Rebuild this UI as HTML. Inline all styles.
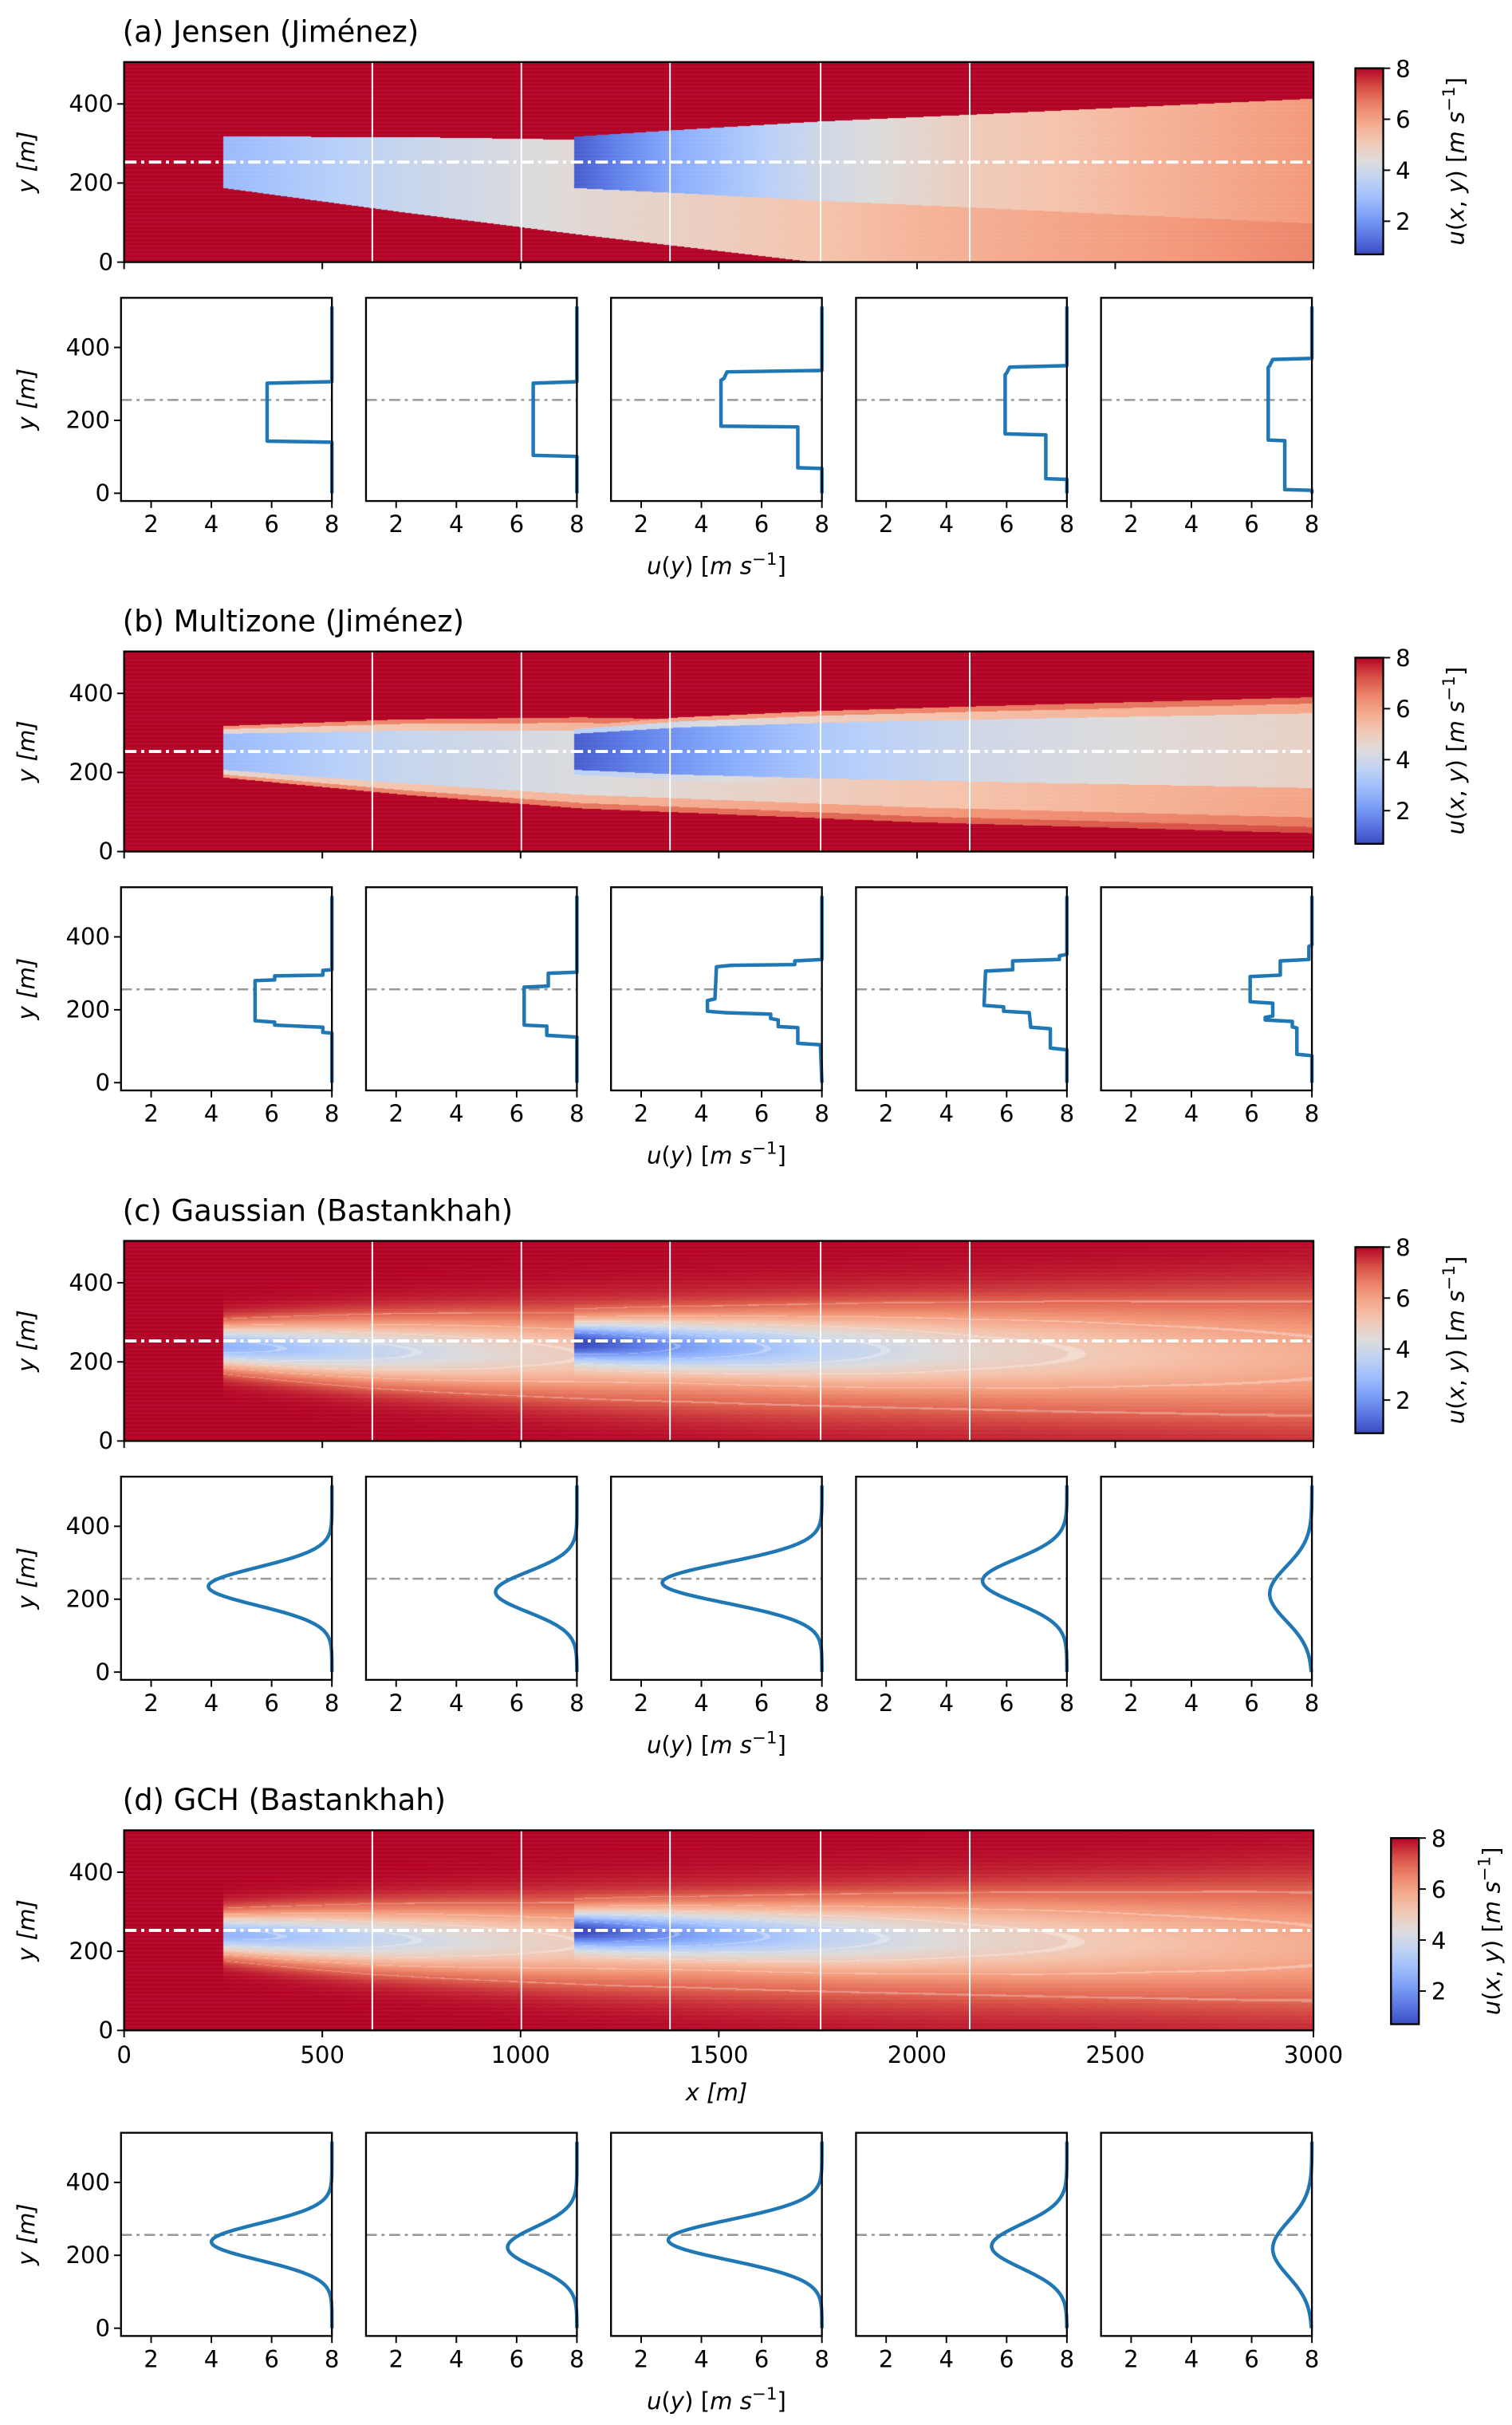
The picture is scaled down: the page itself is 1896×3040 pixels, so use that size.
<!DOCTYPE html>
<html><head><meta charset="utf-8"><title>Wake models</title>
<style>
html,body{margin:0;padding:0;background:#fff;}
#wrap{position:relative;width:1896px;height:3040px;overflow:hidden;background:#fff;}
canvas{position:absolute;}
svg{position:absolute;left:0;top:0;}
text{font-family:"DejaVu Sans","Liberation Sans",sans-serif;fill:#000;}
</style></head>
<body>
<div id="wrap">
<svg id="fig" width="1896" height="3040" viewBox="0 0 975 1563.4"></svg>
</div>
<script>
// ---------------- data ----------------
const titles = ["(a) Jensen (Jiménez)", "(b) Multizone (Jiménez)", "(c) Gaussian (Bastankhah)", "(d) GCH (Bastankhah)"];
const sliceX = [626, 1002, 1377, 1757, 2133];
const centerY = 253;
const xTicks = [0, 500, 1000, 1500, 2000, 2500, 3000];
const yTicks = [0, 200, 400];
const uTicks = [2, 4, 6, 8];
const cbTicks = [2, 4, 6, 8];
const vMin = 0.7, vMax = 8, uInf = 8;

// Jensen wakes (stations)
const jW1x = [250, 700, 1150, 2000, 3000];
const jW1u = [2.8, 3.8, 4.5, 5.6, 6.5];
const jW1c = [253, 222, 190, 130, 60];
const jW1h = [65, 95, 120, 160, 200];
const jW2x = [1135, 1400, 1750, 2150, 3000];
const jW2u = [1.0, 2.5, 4.0, 5.0, 6.2];
const jW2c = [253, 255, 256, 256, 256];
const jW2h = [65, 80, 100, 118, 158];
// Multizone wakes
const mW1x = [250, 700, 1150, 2000, 3000];
const mW1u = [2.8, 3.8, 4.3, 5.2, 6.0];
const mW1c = [253, 240, 225, 200, 180];
const mW1h = [65, 95, 115, 125, 133];
const mW2x = [1135, 1400, 1750, 2150, 3000];
const mW2u = [1.0, 2.0, 3.2, 4.0, 4.8];
const mW2c = [253, 255, 256, 256, 256];
const mW2h = [65, 85, 100, 112, 135];
// Gaussian wakes
const gW1x = [250, 400, 626, 1002, 1400, 2000, 3000];
const gW1d = [5.4, 5.0, 4.3, 3.3, 2.5, 1.8, 1.2];
const gW1c = [240, 235, 228, 220, 212, 200, 185];
const gW1s = [38, 45, 55, 68, 82, 100, 120];
const gW2x = [1135, 1300, 1500, 1757, 2133, 2600, 3000];
const gW2d = [7.0, 6.0, 5.0, 4.0, 3.0, 2.3, 1.9];
const gW2c = [250, 245, 240, 235, 230, 225, 220];
const gW2s = [38, 45, 52, 62, 76, 92, 108];

// Profiles: Jensen (u, y)
const jP1 = [[8,512],[8,306],[5.85,302],[5.85,143],[8,140],[8,0]];
const jP2 = [[8,512],[8,306],[6.55,302],[6.55,104],[8,101],[8,0]];
const jP3 = [[8,512],[8,337],[4.85,333],[4.75,315],[4.65,310],[4.65,184],[7.2,182],[7.2,70],[8,68],[8,0]];
const jP4 = [[8,512],[8,350],[6.1,346],[6.0,330],[5.95,325],[5.95,163],[7.3,160],[7.3,40],[8,38],[8,0]];
const jP5 = [[8,512],[8,370],[6.7,367],[6.6,350],[6.55,345],[6.55,146],[7.1,144],[7.1,10],[8,8],[8,0]];
// Profiles: Multizone
const mP1 = [[8,512],[8,310],[7.7,308],[7.7,295],[6.1,293],[6.1,282],[5.45,280],[5.45,170],[6.1,166],[6.1,158],[7.7,152],[7.7,138],[8,136],[8,0]];
const mP2 = [[8,512],[8,303],[7.05,300],[7.05,265],[6.25,262],[6.25,158],[7.0,155],[7.0,130],[8,125],[8,0]];
const mP3 = [[8,512],[8,338],[7.1,334],[7.1,324],[5.0,322],[4.5,318],[4.45,230],[4.2,225],[4.2,196],[4.8,192],[6.3,188],[6.3,176],[6.55,172],[6.55,154],[7.2,151],[7.2,108],[7.95,104],[8,0]];
const mP4 = [[8,512],[8,352],[7.75,348],[7.75,338],[6.2,334],[6.2,310],[5.3,306],[5.25,212],[5.9,208],[5.9,196],[6.75,192],[6.8,152],[7.45,148],[7.45,95],[8,90],[8,0]];
const mP5 = [[8,512],[8,378],[7.9,374],[7.9,338],[6.95,334],[6.95,295],[5.95,291],[5.95,222],[6.7,218],[6.7,183],[6.45,179],[6.45,172],[7.35,168],[7.35,153],[7.5,150],[7.5,78],[8,74],[8,0]];
// Profiles: Gaussian / GCH (min speed, centre, width)
const gMin = [3.9, 5.3, 2.7, 5.2, 6.6];
const gCen = [235, 220, 245, 250, 215];
const gSig = [52, 55, 55, 60, 75];
const hMin = [4.0, 5.7, 2.9, 5.5, 6.7];
const hCen = [237, 222, 242, 225, 218];
const hSig = [50, 55, 55, 60, 75];

// ---------------- layout ----------------
const S = 1896 / 975;
const rowOff = [0, 380, 760, 1140];
const profTop = [192, 572, 952, 1375];
const panelL = [78, 236, 394, 552, 710];
const panelW = 136, panelH = 131;
const HX0 = 80, HX1 = 847, HH = 129, HT = 40, YMAX = 506;
const svg = document.getElementById('fig');
const NS = 'http://www.w3.org/2000/svg';
function mk(tag, attrs, parent) {
  const e = document.createElementNS(NS, tag);
  for (const k in attrs) e.setAttribute(k, attrs[k]);
  (parent || svg).appendChild(e);
  return e;
}
function txt(str, attrs, parent) { const t = mk('text', attrs, parent); t.textContent = str; return t; }

function lerp(xs, vs, x) {
  if (x <= xs[0]) return vs[0];
  for (let i = 1; i < xs.length; i++) if (x <= xs[i]) { const f = (x - xs[i-1]) / (xs[i] - xs[i-1]); return vs[i-1] + f * (vs[i] - vs[i-1]); }
  return vs[vs.length-1];
}
const cmStops = [[0,[58,76,193]],[0.125,[98,130,234]],[0.25,[141,176,254]],[0.375,[184,208,249]],[0.5,[221,220,220]],[0.625,[245,196,173]],[0.75,[244,154,123]],[0.875,[222,96,77]],[1,[180,4,38]]];
function cmap(v) {
  let t = (v - vMin) / (vMax - vMin); t = Math.max(0, Math.min(1, t));
  for (let i = 1; i < cmStops.length; i++) if (t <= cmStops[i][0]) {
    const a = cmStops[i-1], b = cmStops[i], f = (t - a[0]) / (b[0] - a[0]);
    return [0,1,2].map(k => Math.round(a[1][k] + f * (b[1][k] - a[1][k])));
  }
  return cmStops[cmStops.length-1][1];
}

// field models
function fJensen(x, y) {
  let u = uInf;
  const W = [[jW1x,jW1u,jW1c,jW1h],[jW2x,jW2u,jW2c,jW2h]];
  for (const w of W) { if (x < w[0][0]) continue;
    const c = lerp(w[0], w[2], x), h = lerp(w[0], w[3], x);
    if (Math.abs(y - c) <= h) u = Math.min(u, lerp(w[0], w[1], x)); }
  return u;
}
function fMulti(x, y) {
  let u = uInf;
  const W = [[mW1x,mW1u,mW1c,mW1h],[mW2x,mW2u,mW2c,mW2h]];
  for (const w of W) { if (x < w[0][0]) continue;
    const c = lerp(w[0], w[2], x), h = lerp(w[0], w[3], x), uc = lerp(w[0], w[1], x);
    const r = Math.abs(y - c) / h; let v = uInf;
    if (r <= 0.7) v = uc; else if (r <= 0.88) v = uc + (uInf - uc) * 0.35; else if (r <= 1.0) v = uc + (uInf - uc) * 0.65;
    u = Math.min(u, v); }
  return u;
}
function fGauss(x, y, gch) {
  let s = 0;
  const W = [[gW1x,gW1d,gW1c,gW1s],[gW2x,gW2d,gW2c,gW2s]];
  for (const w of W) { if (x < w[0][0]) continue;
    const c = lerp(w[0], w[2], x) + (gch ? 4 : 0), sg = lerp(w[0], w[3], x) * (gch ? 0.95 : 1), d = lerp(w[0], w[1], x);
    const v = d * Math.exp(-(y - c) * (y - c) / (2 * sg * sg)); s += v * v; }
  return uInf - Math.sqrt(s);
}
const fields = [fJensen, fMulti, function(x,y){return fGauss(x,y,false);}, function(x,y){return fGauss(x,y,true);}];
const hmNames = ['heatmap-jensen','heatmap-multizone','heatmap-gaussian','heatmap-gch'];

// ---------------- heatmaps ----------------
const wrap = document.getElementById('wrap');
for (let r = 0; r < 4; r++) {
  const cv = document.createElement('canvas');
  
  
  const W = Math.round((HX1 - HX0) * S), H = Math.round(HH * S);
  cv.width = W; cv.height = H;
  cv.style.left = (HX0 * S) + 'px'; cv.style.top = ((HT + rowOff[r]) * S) + 'px';
  const ctx = cv.getContext('2d'); const img = ctx.createImageData(W, H);
  for (let j = 0; j < H; j++) { const y = (1 - (j + 0.5) / H) * YMAX;
    const stripe = (j % 5 === 0) ? 0.06 : 0;
    for (let i = 0; i < W; i++) { const x = (i + 0.5) / W * 3000;
      const u = fields[r](x, y); let c = cmap(u);
      if (r >= 2) { for (const L of [2,3,4,5,6,7]) if (Math.abs(u - L) < 0.035) { c = c.map(v => v + (255 - v) * 0.3); break; } }
      const k = (j * W + i) * 4;
      img.data[k] = c[0] + (255 - c[0]) * stripe; img.data[k+1] = c[1] + (255 - c[1]) * stripe; img.data[k+2] = c[2] + (255 - c[2]) * stripe; img.data[k+3] = 255; } }
  ctx.putImageData(img, 0, 0);
  wrap.insertBefore(cv, svg);
}

// colorbar gradient
const defs = mk('defs', {});
const grad = mk('linearGradient', {id: 'cbgrad', x1: 0, y1: 1, x2: 0, y2: 0}, defs);
for (let k = 0; k <= 10; k++) { const c = cmap(vMin + (vMax - vMin) * k / 10); mk('stop', {offset: k / 10, 'stop-color': 'rgb(' + c[0] + ',' + c[1] + ',' + c[2] + ')'}, grad); }

const hx = x => HX0 + x / 3000 * (HX1 - HX0);
const hy = (y, o) => HT + o + HH - y / YMAX * HH;

for (let r = 0; r < 4; r++) {
  const o = rowOff[r];
  const g = mk('g', {});
  
  
  const t = txt(titles[r], {x: 79, y: 27 + o, 'font-size': 19}, g);
  
  
  for (const sx of sliceX) {
    const l = mk('line', {x1: hx(sx), x2: hx(sx), y1: HT + o, y2: HT + o + HH, stroke: '#fff', 'stroke-width': 1}, g);
    
    
  }
  const cl = mk('line', {x1: HX0, x2: HX1, y1: hy(centerY, o), y2: hy(centerY, o), stroke: '#fff', 'stroke-width': 2, 'stroke-dasharray': '8 3 2 3'}, g);
  
  
  const fr = mk('rect', {x: HX0, y: HT + o, width: HX1 - HX0, height: HH, fill: 'none', stroke: '#000', 'stroke-width': 1.2}, g);
  
  
  for (const yt of yTicks) {
    mk('line', {x1: HX0 - 4.5, x2: HX0, y1: hy(yt, o), y2: hy(yt, o), stroke: '#000', 'stroke-width': 1}, g);
    const tl = txt(String(yt), {x: HX0 - 7, y: hy(yt, o) + 5, 'font-size': 15, 'text-anchor': 'end'}, g);
    
    
  }
  for (const xt of xTicks) {
    mk('line', {x1: hx(xt), x2: hx(xt), y1: HT + o + HH, y2: HT + o + HH + 4.5, stroke: '#000', 'stroke-width': 1}, g);
    if (r === 3) {
      const tl = txt(String(xt), {x: hx(xt), y: HT + o + HH + 21, 'font-size': 15, 'text-anchor': 'middle'}, g);
      
      
    }
  }
  const yl = txt('y [m]', {x: 0, y: 0, 'font-size': 15, 'font-style': 'italic', 'text-anchor': 'middle', transform: 'translate(22,' + (HT + o + HH / 2) + ') rotate(-90)'}, g);
  
  
  if (r === 3) {
    const xl = txt('x [m]', {x: 462, y: 1354, 'font-size': 15, 'font-style': 'italic', 'text-anchor': 'middle'}, g);
    
    
  }
  const cbx = r === 3 ? 897 : 874, cby = r === 3 ? 1185 : 44 + o, cbw = 18, cbh = 120;
  const cb = mk('rect', {x: cbx, y: cby, width: cbw, height: cbh, fill: 'url(#cbgrad)', stroke: '#000', 'stroke-width': 1.2}, g);
  
  
  for (const ct of cbTicks) {
    const yy = cby + cbh - (ct - vMin) / (vMax - vMin) * cbh;
    mk('line', {x1: cbx + cbw, x2: cbx + cbw + 4.5, y1: yy, y2: yy, stroke: '#000', 'stroke-width': 1}, g);
    const tl = txt(String(ct), {x: cbx + cbw + 8, y: yy + 5.5, 'font-size': 15}, g);
    
    
  }
  const cbl = mk('text', {x: 0, y: 0, 'font-size': 15, 'text-anchor': 'middle', transform: 'translate(' + (cbx + cbw + 52) + ',' + (cby + cbh / 2) + ') rotate(-90)'}, g);
  cbl.innerHTML = '<tspan font-style="italic">u</tspan>(<tspan font-style="italic">x</tspan>, <tspan font-style="italic">y</tspan>) [<tspan font-style="italic">m s</tspan><tspan dy="-6" font-size="11">−1</tspan><tspan dy="6">]</tspan>';
  
  

  const pt = profTop[r];
  const py = y => pt + panelH - 5 - y * 0.235;
  for (let i = 0; i < 5; i++) {
    const L = panelL[i];
    const px = u => L + (u - 1) / 7 * panelW;
    const pg = mk('g', {}, g);
    
    
    const dl = mk('line', {x1: L, x2: L + panelW, y1: py(256), y2: py(256), stroke: '#999', 'stroke-width': 1.3, 'stroke-dasharray': '7 3 2 3'}, pg);
    
    
    let pts;
    if (r === 0) pts = [jP1, jP2, jP3, jP4, jP5][i];
    else if (r === 1) pts = [mP1, mP2, mP3, mP4, mP5][i];
    else {
      const mn = r === 2 ? gMin : hMin, cn = r === 2 ? gCen : hCen, sg = r === 2 ? gSig : hSig;
      pts = [];
      for (let y = 512; y >= 0; y -= 4) {
        const dy = y - cn[i];
        pts.push([uInf - (uInf - mn[i]) * Math.exp(-(dy * dy) / (2 * sg[i] * sg[i])), y]);
      }
    }
    const d = pts.map((p, k) => (k ? 'L' : 'M') + px(p[0]).toFixed(2) + ' ' + py(p[1]).toFixed(2)).join(' ');
    const pl = mk('path', {d: d, fill: 'none', stroke: '#1f77b4', 'stroke-width': 2.3, 'stroke-linejoin': 'round'}, pg);
    
    
    const f = mk('rect', {x: L, y: pt, width: panelW, height: panelH, fill: 'none', stroke: '#000', 'stroke-width': 1.2}, pg);
    
    
    for (const ut of uTicks) {
      mk('line', {x1: px(ut), x2: px(ut), y1: pt + panelH, y2: pt + panelH + 4.5, stroke: '#000', 'stroke-width': 1}, pg);
      const tl = txt(String(ut), {x: px(ut), y: pt + panelH + 20, 'font-size': 15, 'text-anchor': 'middle'}, pg);
      
      
    }
    if (i === 0) {
      for (const yt of yTicks) {
        mk('line', {x1: L - 4.5, x2: L, y1: py(yt), y2: py(yt), stroke: '#000', 'stroke-width': 1}, pg);
        const tl = txt(String(yt), {x: L - 7, y: py(yt) + 5, 'font-size': 15, 'text-anchor': 'end'}, pg);
        
        
      }
    }
  }
  const pyl = txt('y [m]', {x: 0, y: 0, 'font-size': 15, 'font-style': 'italic', 'text-anchor': 'middle', transform: 'translate(22,' + (pt + panelH / 2) + ') rotate(-90)'}, g);
  
  
  const ul = mk('text', {x: 462, y: pt + panelH + 47, 'font-size': 15, 'text-anchor': 'middle'}, g);
  ul.innerHTML = '<tspan font-style="italic">u</tspan>(<tspan font-style="italic">y</tspan>) [<tspan font-style="italic">m s</tspan><tspan dy="-6" font-size="11">−1</tspan><tspan dy="6">]</tspan>';
  
  
}
</script>
</body></html>
